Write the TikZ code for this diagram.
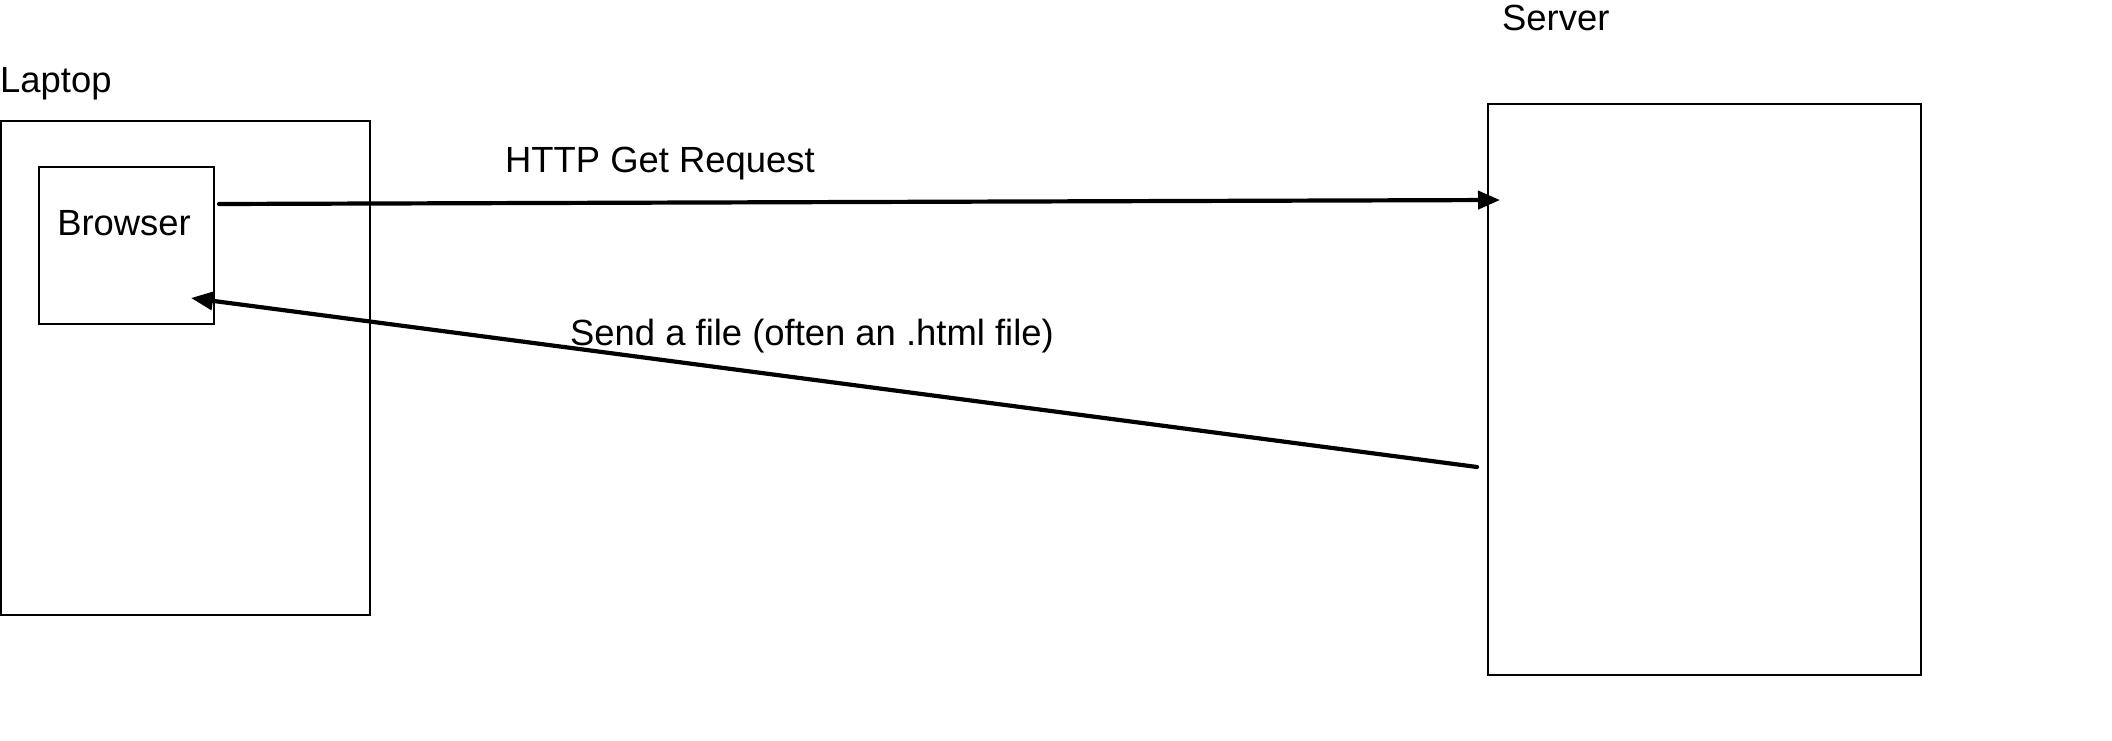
\documentclass[tikz,border=0pt]{standalone}
\usepackage{fontspec}
\setmainfont{Liberation Sans}
\usetikzlibrary{arrows.meta}
\begin{document}
\begin{tikzpicture}[x=1pt,y=-1pt,
  box/.style={draw=black, line width=2pt, rectangle, inner sep=0pt, anchor=north west},
  lbl/.style={inner sep=0pt, font=\fontsize{36.4}{43}\selectfont},
  flow/.style={line width=4.2pt, line cap=round, -{Triangle[length=22pt,width=18pt]}}]
\useasboundingbox[fill=white] (0,0) rectangle (2112,741);
\node[box, minimum width=369pt, minimum height=494pt] (laptop) at (0,120) {};
\node[box, minimum width=175pt, minimum height=157pt] (browser) at (38,166) {};
\node[box, minimum width=433pt, minimum height=571pt] (server) at (1487,103) {};
\node[lbl, anchor=base west] (laptoplbl) at (0,93) {Laptop};
\node[lbl, anchor=base west] (serverlbl) at (1502,31) {Server};
\node[lbl, anchor=base] (browserlbl) at (124,235) {Browser};
\node[lbl, anchor=base west] (getlbl) at (505,172) {HTTP Get Request};
\node[lbl, anchor=base west] (sendlbl) at (570,345) {Send a file (often an .html file)};
\draw[flow] ([xshift=4pt,yshift=-38pt]browser.north east) -- ([xshift=13pt,yshift=-97pt]server.north west);
\draw[flow] ([xshift=-10pt,yshift=-364pt]server.north west) -- ([xshift=-24pt,yshift=-132pt]browser.north east);
\end{tikzpicture}
\end{document}
